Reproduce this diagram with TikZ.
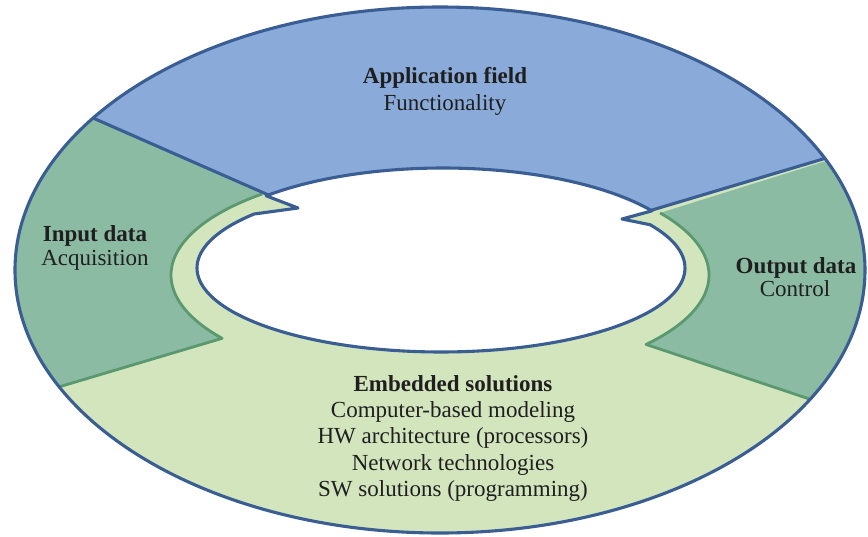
\documentclass[tikz,border=0pt]{standalone}
\usepackage{fontspec}
\setmainfont{Liberation Serif}
\definecolor{blueF}{HTML}{8AABDA}
\definecolor{dgreen}{HTML}{8CBBA4}
\definecolor{lgreen}{HTML}{D3E5BD}
\definecolor{edge}{HTML}{3A5E94}
\definecolor{gline}{HTML}{5A9970}
\tikzset{
  edgeline/.style={draw=edge, line width=3.1pt, line join=round},
  greenline/.style={draw=gline, line width=2.8pt, line join=round},
  lbl/.style={font=\fontsize{23}{26}\selectfont, anchor=base, inner sep=0pt, text=black!88},
  lblb/.style={font=\fontsize{23}{26}\selectfont\bfseries, anchor=base, inner sep=0pt, text=black!88},
}
\begin{document}
\begin{tikzpicture}[x=1pt,y=-1pt]
\fill[white] (0,0) rectangle (868,536);
\useasboundingbox (0,0) rectangle (868,536);
% key points
\coordinate (TL) at (298,208);
\coordinate (TR) at (622,219);
\coordinate (P1) at (-112,28);
\coordinate (P3) at (1024,99);
\coordinate (JLm) at ({440+269*cos(228.6)},{275+108*sin(228.6)});
\coordinate (JRm) at ({440+269*cos(-35.1)},{275+108*sin(-35.1)});
\coordinate (BLx) at (-106,436);
\coordinate (BRx) at (980,456);
\begin{scope}
  \clip (440,270) ellipse [x radius=425, y radius=263];
  \fill[lgreen] (0,0) rectangle (868,536);
  % application field (top)
  \fill[blueF] (P1) -- (TL) -- (TR) -- (P3) -- (1024,-50) -- (-112,-50) -- cycle;
  % input data (left)
  \fill[dgreen] (P1) -- (JLm) -- plot[domain=228.6:144.1, samples=60] ({440+269*cos(\x)},{275+108*sin(\x)}) -- (BLx) -- (-140,440) -- (-140,28) -- cycle;
  % output data (right)
  \fill[dgreen] (P3) -- (JRm) -- plot[domain=-35.1:40, samples=60] ({440+269*cos(\x)},{275+108*sin(\x)}) -- (BRx) -- (1040,470) -- (1040,99) -- cycle;
  % green borders
  \draw[greenline] plot[domain=228.6:144.1, samples=60] ({440+269*cos(\x)},{275+108*sin(\x)}) -- (BLx);
  \draw[greenline] plot[domain=-35.1:40, samples=60] ({440+269*cos(\x)},{275+108*sin(\x)}) -- (BRx);
  % blue separators
  \draw[edgeline] (P1) -- (TL);
  \draw[edgeline] (TR) -- (P3);
  % hole
  \draw[edgeline, fill=white] (TL) -- plot[domain=-135:-33.3, samples=60] ({443+250*cos(\x)},{263+95*sin(\x)}) -- (TR) -- plot[domain=-31:220, samples=120] ({441+244*cos(\x)},{268+84*sin(\x)}) -- cycle;
\end{scope}
\draw[edgeline] (440,270) ellipse [x radius=425, y radius=263];
% labels
\node[lblb] (app) at (445,83) {Application field};
\node[lbl] (fun) at (445,110) {Functionality};
\node[lblb] (inp) at (95,241) {Input data};
\node[lbl] (acq) at (95,265) {Acquisition};
\node[lblb] (out) at (796,273) {Output data};
\node[lbl] (ctl) at (795,296) {Control};
\node[lblb] (emb) at (453,391.5) {Embedded solutions};
\node[lbl] (e1) at (453,417.5) {Computer-based modeling};
\node[lbl] (e2) at (453,443.7) {HW architecture (processors)};
\node[lbl] (e3) at (453,470) {Network technologies};
\node[lbl] (e4) at (453,496) {SW solutions (programming)};
\end{tikzpicture}
\end{document}
